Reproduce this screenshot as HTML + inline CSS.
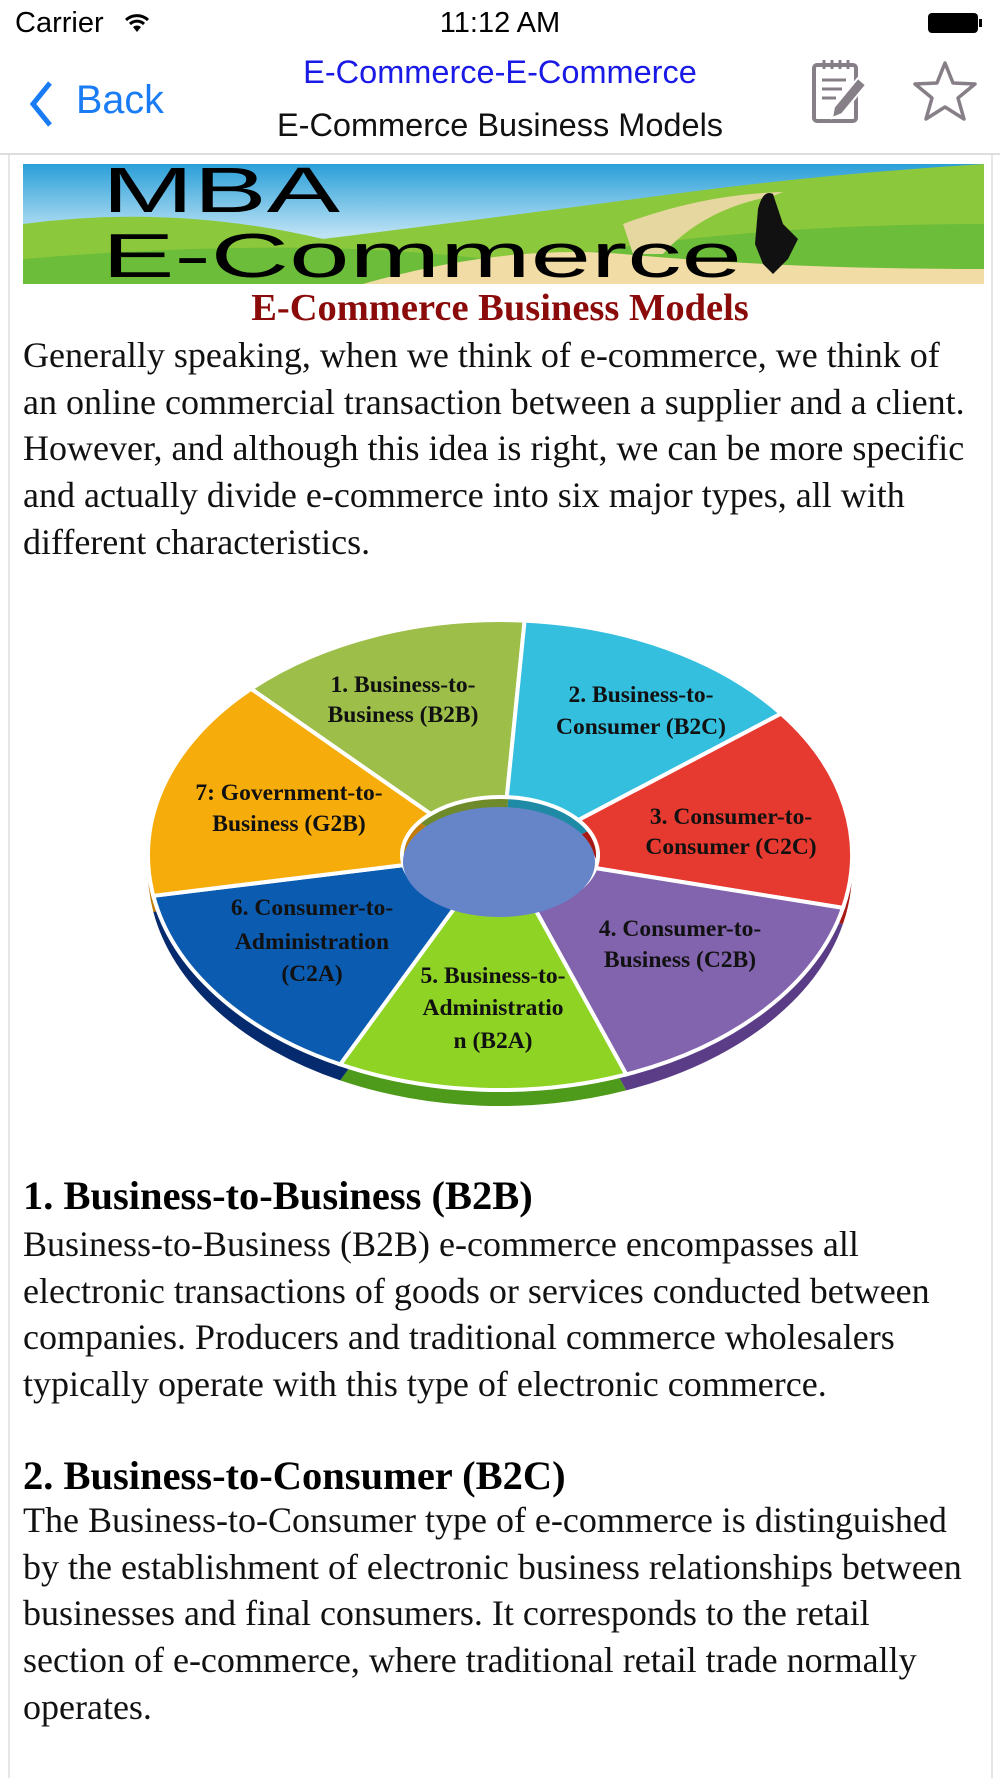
<!DOCTYPE html>
<html><head><meta charset="utf-8"><style>
*{margin:0;padding:0}
body{width:1000px;height:1778px;position:relative;background:#fff;overflow:hidden;font-family:"Liberation Serif",serif}
.a{position:absolute;white-space:nowrap}
.s{font-family:"Liberation Sans",sans-serif}
.p{font-size:36px;line-height:46.7px;color:#111;left:23px}
.h{font-size:40.5px;font-weight:bold;color:#000;left:23px}
</style></head><body>
<div class="a s" style="left:15px;top:7px;font-size:29px">Carrier</div>
<svg class="a" style="left:124px;top:12px" width="26" height="22" viewBox="0 0 26 22"><path d="M2 8 A16 16 0 0 1 24 8" stroke="#000" stroke-width="3" fill="none"/><path d="M6 12 A10 10 0 0 1 20 12" stroke="#000" stroke-width="3" fill="none"/><path d="M13 20 L9 15 A6 6 0 0 1 17 15Z" fill="#000"/></svg>
<div class="a s" style="left:0;width:1000px;text-align:center;top:7px;font-size:29px">11:12 AM</div>
<div class="a" style="left:928px;top:13px;width:50px;height:20px;background:#000;border-radius:4px"></div>
<div class="a" style="left:979px;top:19px;width:3px;height:8px;background:#000"></div>

<svg class="a" style="left:28px;top:80px" width="26" height="48"><path d="M22 3 L5 24 L22 45" stroke="#1a7cf5" stroke-width="5" fill="none"/></svg>
<div class="a s" style="left:76px;top:78px;font-size:39.5px;color:#1a7cf5">Back</div>
<div class="a s" style="left:0;width:1000px;text-align:center;top:54px;font-size:32.5px;color:#1a1ae6">E-Commerce-E-Commerce</div>
<div class="a s" style="left:0;width:1000px;text-align:center;top:107px;font-size:32.5px;color:#111">E-Commerce Business Models</div>
<svg class="a" style="left:810px;top:58px" width="60" height="68" viewBox="0 0 60 68"><rect x="4" y="7" width="42" height="56" rx="3" fill="none" stroke="#877f87" stroke-width="4"/><g stroke="#877f87" stroke-width="3"><line x1="14" y1="2" x2="14" y2="11"/><line x1="22" y1="2" x2="22" y2="11"/><line x1="30" y1="2" x2="30" y2="11"/><line x1="38" y1="2" x2="38" y2="11"/><line x1="12" y1="22" x2="36" y2="22"/><line x1="12" y1="31" x2="32" y2="31"/><line x1="12" y1="40" x2="26" y2="40"/></g><path d="M48 20 L56 27 L32 56 L22 60 L24 49Z" fill="#877f87" stroke="#fff" stroke-width="2"/></svg>
<svg class="a" style="left:912px;top:60px" width="66" height="62" viewBox="0 0 66 62"><path d="M33 3 L41 23 L63 24 L46 38 L52 59 L33 47 L14 59 L20 38 L3 24 L25 23Z" fill="none" stroke="#877f87" stroke-width="3.5" stroke-linejoin="round"/></svg>
<div class="a" style="left:0;top:153px;width:1000px;height:2px;background:#ddd"></div>
<div class="a" style="left:8px;top:155px;width:2px;height:1623px;background:#e6e6e6"></div>
<div class="a" style="left:991px;top:155px;width:2px;height:1623px;background:#e6e6e6"></div>

<svg class="a" style="left:23px;top:164px" width="961" height="120" viewBox="0 0 961 120">
<defs><linearGradient id="sky" x1="0" y1="0" x2="0" y2="1"><stop offset="0" stop-color="#2a9fd8"/><stop offset="0.6" stop-color="#bfe3f5"/><stop offset="1" stop-color="#8ccd3c"/></linearGradient></defs>
<rect width="961" height="120" fill="url(#sky)"/>
<path d="M0 60 Q150 40 300 75 Q500 50 650 30 Q800 10 961 0 L961 120 L0 120Z" fill="#8cc83c"/>
<path d="M0 95 Q300 70 500 100 Q700 60 961 60 L961 120 L0 120Z" fill="#6cbd3a"/>
<path d="M340 120 Q480 80 600 90 Q760 105 961 105 L961 120 Z" fill="#f2dca5"/>
<path d="M600 60 Q680 30 760 28 L750 32 Q680 45 640 90 L610 90Z" fill="#e6d7a0"/>
<path d="M735 45 Q740 25 750 30 L760 60 L775 75 L765 95 L750 110 L740 100 L732 80Z" fill="#111"/>
<text x="79" y="48" font-family="Liberation Sans,sans-serif" font-size="64" textLength="238" lengthAdjust="spacingAndGlyphs">MBA</text>
<text x="79" y="113" font-family="Liberation Sans,sans-serif" font-size="62" textLength="640" lengthAdjust="spacingAndGlyphs">E-Commerce</text>
</svg>

<div class="a" style="left:0;width:1000px;text-align:center;top:286px;font-size:38.5px;font-weight:bold;color:#8b0a0a">E-Commerce Business Models</div>
<div class="a p" style="top:332px">Generally speaking, when we think of e-commerce, we think of<br>an online commercial transaction between a supplier and a client.<br>However, and although this idea is right, we can be more specific<br>and actually divide e-commerce into six major types, all with<br>different characteristics.</div>

<svg class="a" style="left:0;top:0" width="1000" height="1120" viewBox="0 0 1000 1120" font-family="Liberation Serif,serif" font-weight="bold" font-size="23.5" text-anchor="middle">
<g transform="translate(0,16)">
<path d="M430.7 814 L251.1 688.8 A352 235 0 0 1 524.6 620.6 L506.8 797.1 A98 58 0 0 0 430.7 814Z" fill="#6f8a2a"/>
<path d="M506.8 797.1 L524.6 620.6 A352 235 0 0 1 781.1 713.6 L578.3 820.1 A98 58 0 0 0 506.8 797.1Z" fill="#1f8aa6"/>
<path d="M578.3 820.1 L781.1 713.6 A352 235 0 0 1 843 907.9 L595.5 868.1 A98 58 0 0 0 578.3 820.1Z" fill="#a81812"/>
<path d="M595.5 868.1 L843 907.9 A352 235 0 0 1 626.2 1074.4 L535.1 909.1 A98 58 0 0 0 595.5 868.1Z" fill="#5a3d86"/>
<path d="M535.1 909.1 L626.2 1074.4 A352 235 0 0 1 340.2 1064.4 L455.5 906.7 A98 58 0 0 0 535.1 909.1Z" fill="#4e9a1a"/>
<path d="M455.5 906.7 L340.2 1064.4 A352 235 0 0 1 153.3 895.8 L403.5 865.1 A98 58 0 0 0 455.5 906.7Z" fill="#062a6e"/>
<path d="M403.5 865.1 L153.3 895.8 A352 235 0 0 1 251.1 688.8 L430.7 814 A98 58 0 0 0 403.5 865.1Z" fill="#c27c05"/>
</g>
<g stroke="#fff" stroke-width="4">
<path d="M430.7 814 L251.1 688.8 A352 235 0 0 1 524.6 620.6 L506.8 797.1 A98 58 0 0 0 430.7 814Z" fill="#9dbf4a"/>
<path d="M506.8 797.1 L524.6 620.6 A352 235 0 0 1 781.1 713.6 L578.3 820.1 A98 58 0 0 0 506.8 797.1Z" fill="#35bfdf"/>
<path d="M578.3 820.1 L781.1 713.6 A352 235 0 0 1 843 907.9 L595.5 868.1 A98 58 0 0 0 578.3 820.1Z" fill="#e63a30"/>
<path d="M595.5 868.1 L843 907.9 A352 235 0 0 1 626.2 1074.4 L535.1 909.1 A98 58 0 0 0 595.5 868.1Z" fill="#8263ad"/>
<path d="M535.1 909.1 L626.2 1074.4 A352 235 0 0 1 340.2 1064.4 L455.5 906.7 A98 58 0 0 0 535.1 909.1Z" fill="#8fd424"/>
<path d="M455.5 906.7 L340.2 1064.4 A352 235 0 0 1 153.3 895.8 L403.5 865.1 A98 58 0 0 0 455.5 906.7Z" fill="#0b5cb0"/>
<path d="M403.5 865.1 L153.3 895.8 A352 235 0 0 1 251.1 688.8 L430.7 814 A98 58 0 0 0 403.5 865.1Z" fill="#f6ad0c"/>
</g>
<ellipse cx="499" cy="862" rx="96" ry="55" fill="#6585c8"/>
<g fill="#111">
<text x="403" y="692">1. Business-to-</text><text x="403" y="722">Business (B2B)</text>
<text x="641" y="702">2. Business-to-</text><text x="641" y="734">Consumer (B2C)</text>
<text x="731" y="824">3. Consumer-to-</text><text x="731" y="854">Consumer (C2C)</text>
<text x="680" y="936">4. Consumer-to-</text><text x="680" y="967">Business (C2B)</text>
<text x="493" y="983">5. Business-to-</text><text x="493" y="1015">Administratio</text><text x="493" y="1048">n (B2A)</text>
<text x="312" y="915">6. Consumer-to-</text><text x="312" y="949">Administration</text><text x="312" y="981">(C2A)</text>
<text x="289" y="800">7: Government-to-</text><text x="289" y="831">Business (G2B)</text>
</g>
</svg>

<div class="a h" style="top:1172px">1. Business-to-Business (B2B)</div>
<div class="a p" style="top:1221px">Business-to-Business (B2B) e-commerce encompasses all<br>electronic transactions of goods or services conducted between<br>companies. Producers and traditional commerce wholesalers<br>typically operate with this type of electronic commerce.</div>
<div class="a h" style="top:1452px">2. Business-to-Consumer (B2C)</div>
<div class="a p" style="top:1497px">The Business-to-Consumer type of e-commerce is distinguished<br>by the establishment of electronic business relationships between<br>businesses and final consumers. It corresponds to the retail<br>section of e-commerce, where traditional retail trade normally<br>operates.</div>
</body></html>
